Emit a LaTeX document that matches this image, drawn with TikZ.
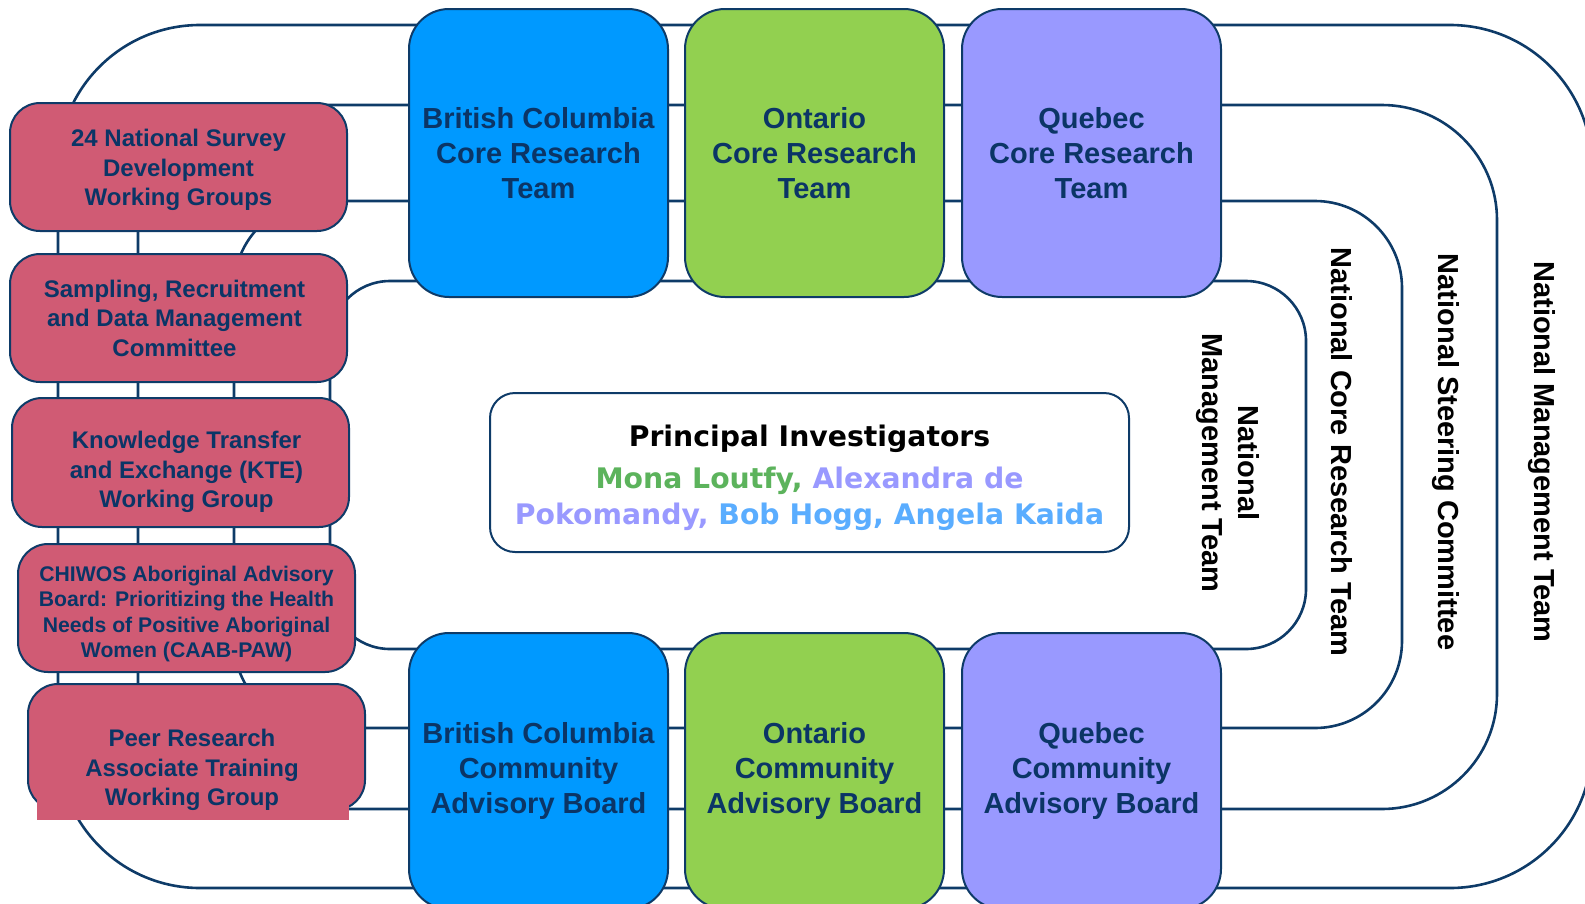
\documentclass[tikz,border=0pt]{standalone}
\usepackage{fontspec}
\setmainfont{Liberation Sans}
\newfontfamily\dejavu{DejaVu Sans}
\definecolor{navy}{HTML}{0E3B68}
\definecolor{navytext}{HTML}{0B3566}
\definecolor{bcblue}{HTML}{0099FF}
\definecolor{ongreen}{HTML}{92D050}
\definecolor{qcpurple}{HTML}{9999FF}
\definecolor{rose}{HTML}{D05B74}
\definecolor{mona}{HTML}{5CB35C}
\definecolor{alex}{HTML}{9999FF}
\definecolor{bob}{HTML}{5AADFF}
\begin{document}
\begin{tikzpicture}[x=1pt,y=-1pt,
  ring/.style={draw=navy, line width=2.6pt, rounded corners=#1},
  bigbox/.style={draw=navy, line width=2pt, rounded corners=40pt, minimum width=259pt, minimum height=288pt, inner sep=0pt, align=center, text=navytext, font=\bfseries\fontsize{29}{35.3}\selectfont},
  redbox/.style={draw=navy, fill=rose, line width=2pt, rounded corners=30pt, minimum width=337pt, minimum height=128pt, inner sep=0pt},
  redtext/.style={align=center, inner sep=0pt, text=navytext, font=\bfseries\fontsize{24}{29.5}\selectfont},
  vlabel/.style={rotate=-90, text=black, font=\bfseries\fontsize{29}{35.3}\selectfont},
  pitext/.style={anchor=base, font=\dejavu\bfseries\fontsize{28.3}{34}\selectfont}]
\useasboundingbox (0,0) rectangle (1585,903);
\clip (0,0) rectangle (1585,903);
% nested loops
\draw[ring=142] (58,25) rectangle (1592,888);
\draw[ring=115] (138,105) rectangle (1497,809);
\draw[ring=87] (234,201) rectangle (1402,728);
\draw[ring=60] (330,281) rectangle (1306,649);
% top row
\node[bigbox, fill=bcblue] (bccrt) at (538.5,153) {British Columbia\\Core Research\\Team};
\node[bigbox, fill=ongreen] (oncrt) at (814.5,153) {Ontario\\Core Research\\Team};
\node[bigbox, fill=qcpurple] (qccrt) at (1091.5,153) {Quebec\\Core Research\\Team};
% bottom row
\node[bigbox, fill=bcblue, minimum height=276pt] (bccab) at (538.5,771) {British Columbia\\Community\\Advisory Board};
\node[bigbox, fill=ongreen, minimum height=276pt] (oncab) at (814.5,771) {Ontario\\Community\\Advisory Board};
\node[bigbox, fill=qcpurple, minimum height=276pt] (qccab) at (1091.5,771) {Quebec\\Community\\Advisory Board};
% left column
\node[redbox] (nsdwg) at (178.5,167) {};
\node[redtext] (nsdwgtext) at (178.5,170) {24 National Survey\\Development\\Working Groups};
\node[redbox] (srdm) at (178.5,318) {};
\node[redtext] (srdmtext) at (174.5,318) {Sampling, Recruitment\\and Data Management\\Committee};
\node[redbox, minimum height=129pt] (kte) at (180.5,462.5) {};
\node[redtext] (ktetext) at (186.5,472) {Knowledge Transfer\\and Exchange (KTE)\\Working Group};
\node[redbox] (caab) at (186.5,608) {};
\node[redtext, font=\bfseries\fontsize{21.2}{25.5}\selectfont] (caabtext) at (186.5,614) {CHIWOS Aboriginal Advisory\\Board: Prioritizing the Health\\Needs of Positive Aboriginal\\Women (CAAB-PAW)};
\node[redbox, minimum height=126pt] (peer) at (196.5,747) {};
\fill[rose] (37,785) rectangle (349,820);
\node[redtext] (peertext) at (192,770) {Peer Research\\Associate Training\\Working Group};
% principal investigators
\node[draw=navy, line width=2pt, fill=white, rounded corners=25pt, minimum width=639pt, minimum height=159pt] (pi) at (809.5,472.5) {};
\node[pitext] (pititle) at (809.5,446) {Principal Investigators};
\node[pitext] (pinames1) at (809.5,488) {\color{mona}Mona Loutfy, \color{alex}Alexandra de};
\node[pitext] (pinames2) at (809.5,524) {\color{alex}Pokomandy, \color{bob}Bob Hogg, Angela Kaida};
% vertical labels
\node[vlabel, align=center] (nmtinner) at (1228,463) {National\\Management Team};
\node[vlabel] (ncrt) at (1342,452) {National Core Research Team};
\node[vlabel] (nsc) at (1446,452) {National Steering Committee};
\node[vlabel] (nmt) at (1542,452) {National Management Team};
\end{tikzpicture}
\end{document}
